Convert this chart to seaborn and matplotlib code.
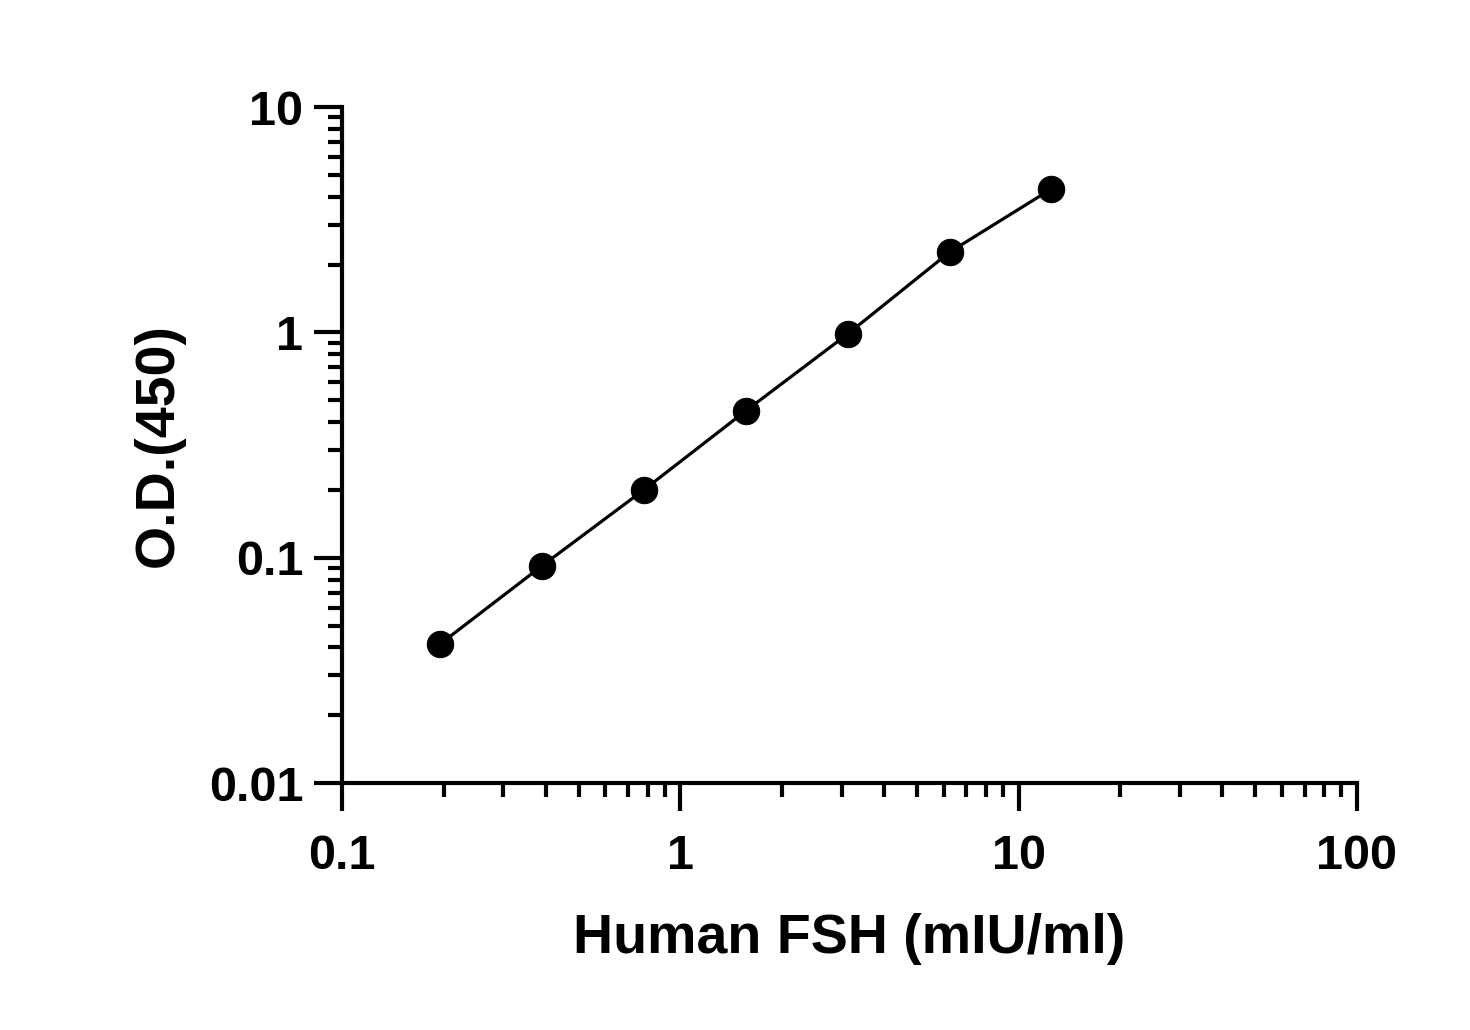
import matplotlib
matplotlib.use("Agg")
import matplotlib.pyplot as plt
import seaborn as sns
import pandas as pd
import numpy as np
from matplotlib.ticker import LogLocator, FixedLocator, FixedFormatter, NullFormatter

concentration = [0.195, 0.39, 0.78, 1.56, 3.125, 6.25, 12.5]
od450 = [0.0414, 0.092, 0.200, 0.448, 0.984, 2.27, 4.33]
x_ticks = [0.1, 1, 10, 100]
x_tick_labels = ["0.1", "1", "10", "100"]
y_ticks = [0.01, 0.1, 1, 10]
y_tick_labels = ["0.01", "0.1", "1", "10"]

df = pd.DataFrame({"conc": concentration, "od": od450})

sns.set_theme(style="ticks")
plt.rcParams['font.family'] = ['Liberation Sans', 'DejaVu Sans']
plt.rcParams['font.weight'] = 'bold'
plt.rcParams['text.color'] = 'black'
plt.rcParams['axes.labelcolor'] = 'black'

fig = plt.figure(figsize=(14.7, 10.3), dpi=100)
ax = fig.add_axes([0.2327, 0.2398, 0.9231 - 0.2327, 0.8961 - 0.2398])

sns.lineplot(data=df, x="conc", y="od", ax=ax, color="black", linewidth=2.3,
             marker="o", markersize=19, markeredgecolor="black",
             markerfacecolor="black", clip_on=False)

ax.set_xscale("log")
ax.set_yscale("log")
ax.set_xlim(0.1, 100)
ax.set_ylim(0.01, 10)

for s in ["top", "right"]:
    ax.spines[s].set_visible(False)
for s in ["left", "bottom"]:
    ax.spines[s].set_linewidth(3.0)
    ax.spines[s].set_color("black")

ax.xaxis.set_major_locator(FixedLocator(x_ticks))
ax.xaxis.set_major_formatter(FixedFormatter(x_tick_labels))
ax.yaxis.set_major_locator(FixedLocator(y_ticks))
ax.yaxis.set_major_formatter(FixedFormatter(y_tick_labels))
ax.xaxis.set_minor_locator(LogLocator(base=10, subs=np.arange(2, 10)))
ax.yaxis.set_minor_locator(LogLocator(base=10, subs=np.arange(2, 10)))
ax.xaxis.set_minor_formatter(NullFormatter())
ax.yaxis.set_minor_formatter(NullFormatter())

ax.tick_params(axis="both", which="major", direction="out", length=20, width=3.0,
               color="black", labelsize=35, labelcolor="black")
ax.tick_params(axis="x", which="major", pad=17)
ax.tick_params(axis="y", which="major", pad=8)
ax.tick_params(axis="both", which="minor", direction="out", length=10, width=3.0,
               color="black")

for lab in ax.get_xticklabels() + ax.get_yticklabels():
    lab.set_fontweight("bold")

ax.set_xlabel("Human FSH (mIU/ml)", fontsize=40, fontweight="bold", labelpad=24, color="black")
ax.set_ylabel("O.D.(450)", fontsize=40, fontweight="bold", labelpad=17, color="black")

fig.savefig("out.png", dpi=100, facecolor="white")
